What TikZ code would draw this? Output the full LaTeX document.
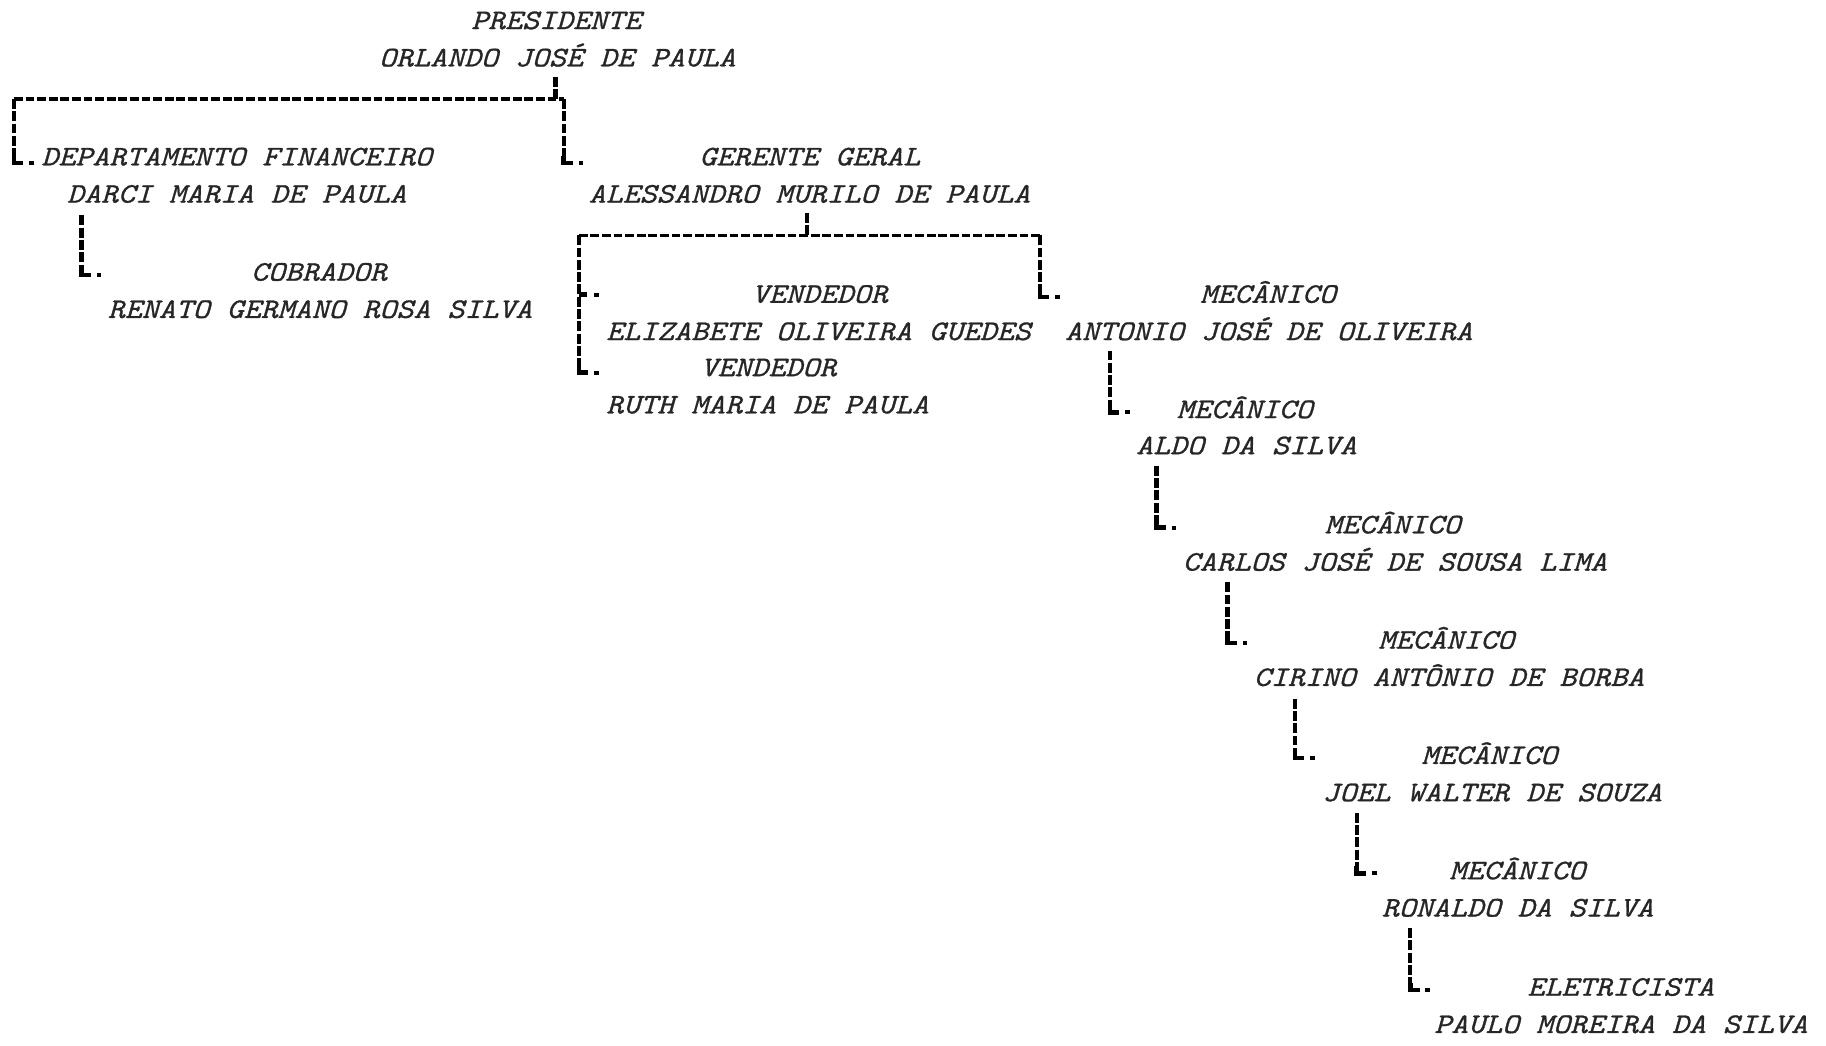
\documentclass[tikz,border=0pt]{standalone}
\usepackage{fontspec}
\newfontfamily\courit{lmmono10-italic.otf}[FakeStretch=1.14,FakeBold=0.9]
\begin{document}
\begin{tikzpicture}[x=0.011645cm,y=-0.011645cm,
  lbl/.style={anchor=base west,inner sep=0pt,text=black!85,font=\courit\fontsize{8.07pt}{9pt}\selectfont},
  vline/.style={line width=1.2pt,dash pattern=on 2.8pt off 0.7pt},
  hline/.style={line width=0.9pt,dash pattern=on 2.5pt off 0.8pt},
  ell/.pic={\draw[line width=1.3pt] (0,-6)--(0,0)--(8,0); \fill (13,-1.7) rectangle (17,1.7);},
  tee/.pic={\draw[line width=1.3pt] (0,0)--(7,0); \fill (13,-1.7) rectangle (17,1.7);}]
\useasboundingbox (0,0) rectangle (1568,898);

% people
\node[lbl] (presT) at (404,25) {PRESIDENTE};
\node[lbl] (presN) at (325,57) {ORLANDO JOSÉ DE PAULA};
\node[lbl] (finT) at (35,142) {DEPARTAMENTO FINANCEIRO};
\node[lbl] (finN) at (57,174) {DARCI MARIA DE PAULA};
\node[lbl] (cobT) at (215,241) {COBRADOR};
\node[lbl] (cobN) at (92,273) {RENATO GERMANO ROSA SILVA};
\node[lbl] (gerT) at (600,142) {GERENTE GERAL};
\node[lbl] (gerN) at (505,174) {ALESSANDRO MURILO DE PAULA};
\node[lbl] (v1T) at (645,260) {VENDEDOR};
\node[lbl] (v1N) at (520,292) {ELIZABETE OLIVEIRA GUEDES};
\node[lbl] (v2T) at (601,323) {VENDEDOR};
\node[lbl] (v2N) at (520,355) {RUTH MARIA DE PAULA};
\node[lbl] (m1T) at (1030,260) {MECÂNICO};
\node[lbl] (m1N) at (914,292) {ANTONIO JOSÉ DE OLIVEIRA};
\node[lbl] (m2T) at (1010,359) {MECÂNICO};
\node[lbl] (m2N) at (975,390) {ALDO DA SILVA};
\node[lbl] (m3T) at (1137,458) {MECÂNICO};
\node[lbl] (m3N) at (1015,490) {CARLOS JOSÉ DE SOUSA LIMA};
\node[lbl] (m4T) at (1183,557) {MECÂNICO};
\node[lbl] (m4N) at (1076,589) {CIRINO ANTÔNIO DE BORBA};
\node[lbl] (m5T) at (1220,656) {MECÂNICO};
\node[lbl] (m5N) at (1135,688) {JOEL WALTER DE SOUZA};
\node[lbl] (m6T) at (1244,755) {MECÂNICO};
\node[lbl] (m6N) at (1186,787) {RONALDO DA SILVA};
\node[lbl] (elT) at (1311,855) {ELETRICISTA};
\node[lbl] (elN) at (1231,887) {PAULO MOREIRA DA SILVA};

% junction points
\coordinate (presTick) at (477,66);
\coordinate (presBus) at (477,85);
\coordinate (presBusL) at (12,85);
\coordinate (presBusR) at (484,85);
\coordinate (finEnd) at (12,140);
\coordinate (gerEnd) at (484,140);
\coordinate (finTick) at (70,185);
\coordinate (cobEnd) at (70,236);
\coordinate (gerTick) at (693,183);
\coordinate (gerBus) at (693,202);
\coordinate (gerBusL) at (497,202);
\coordinate (gerBusR) at (893,202);
\coordinate (v1End) at (497,253);
\coordinate (v2End) at (497,320);
\coordinate (m1End) at (893,255);
\coordinate (m1Tick) at (953,301);
\coordinate (m2End) at (953,354);
\coordinate (m2Tick) at (993,400);
\coordinate (m3End) at (993,453);
\coordinate (m3Tick) at (1054,500);
\coordinate (m4End) at (1054,552);
\coordinate (m4Tick) at (1112,600);
\coordinate (m5End) at (1112,651);
\coordinate (m5Tick) at (1165,698);
\coordinate (m6End) at (1165,750);
\coordinate (m6Tick) at (1211,797);
\coordinate (elEnd) at (1211,850);

% president branches
\draw[vline] (presTick) -- (presBus);
\draw[hline] (presBusL) -- (presBusR);
\draw[vline] (presBusL) -- (finEnd);
\draw[vline] (presBusR) -- (gerEnd);
\pic at (finEnd) {ell};
\pic at (gerEnd) {ell};

% financial department
\draw[vline] (finTick) -- (cobEnd);
\pic at (cobEnd) {ell};

% general manager branches
\draw[vline] (gerTick) -- (gerBus);
\draw[hline] (gerBusL) -- (gerBusR);
\draw[vline] (gerBusL) -- (v2End);
\pic at (v1End) {tee};
\pic at (v2End) {ell};
\draw[vline] (gerBusR) -- (m1End);
\pic at (m1End) {ell};

% chain of mechanics
\draw[vline] (m1Tick) -- (m2End);
\pic at (m2End) {ell};
\draw[vline] (m2Tick) -- (m3End);
\pic at (m3End) {ell};
\draw[vline] (m3Tick) -- (m4End);
\pic at (m4End) {ell};
\draw[vline] (m4Tick) -- (m5End);
\pic at (m5End) {ell};
\draw[vline] (m5Tick) -- (m6End);
\pic at (m6End) {ell};
\draw[vline] (m6Tick) -- (elEnd);
\pic at (elEnd) {ell};
\end{tikzpicture}
\end{document}
